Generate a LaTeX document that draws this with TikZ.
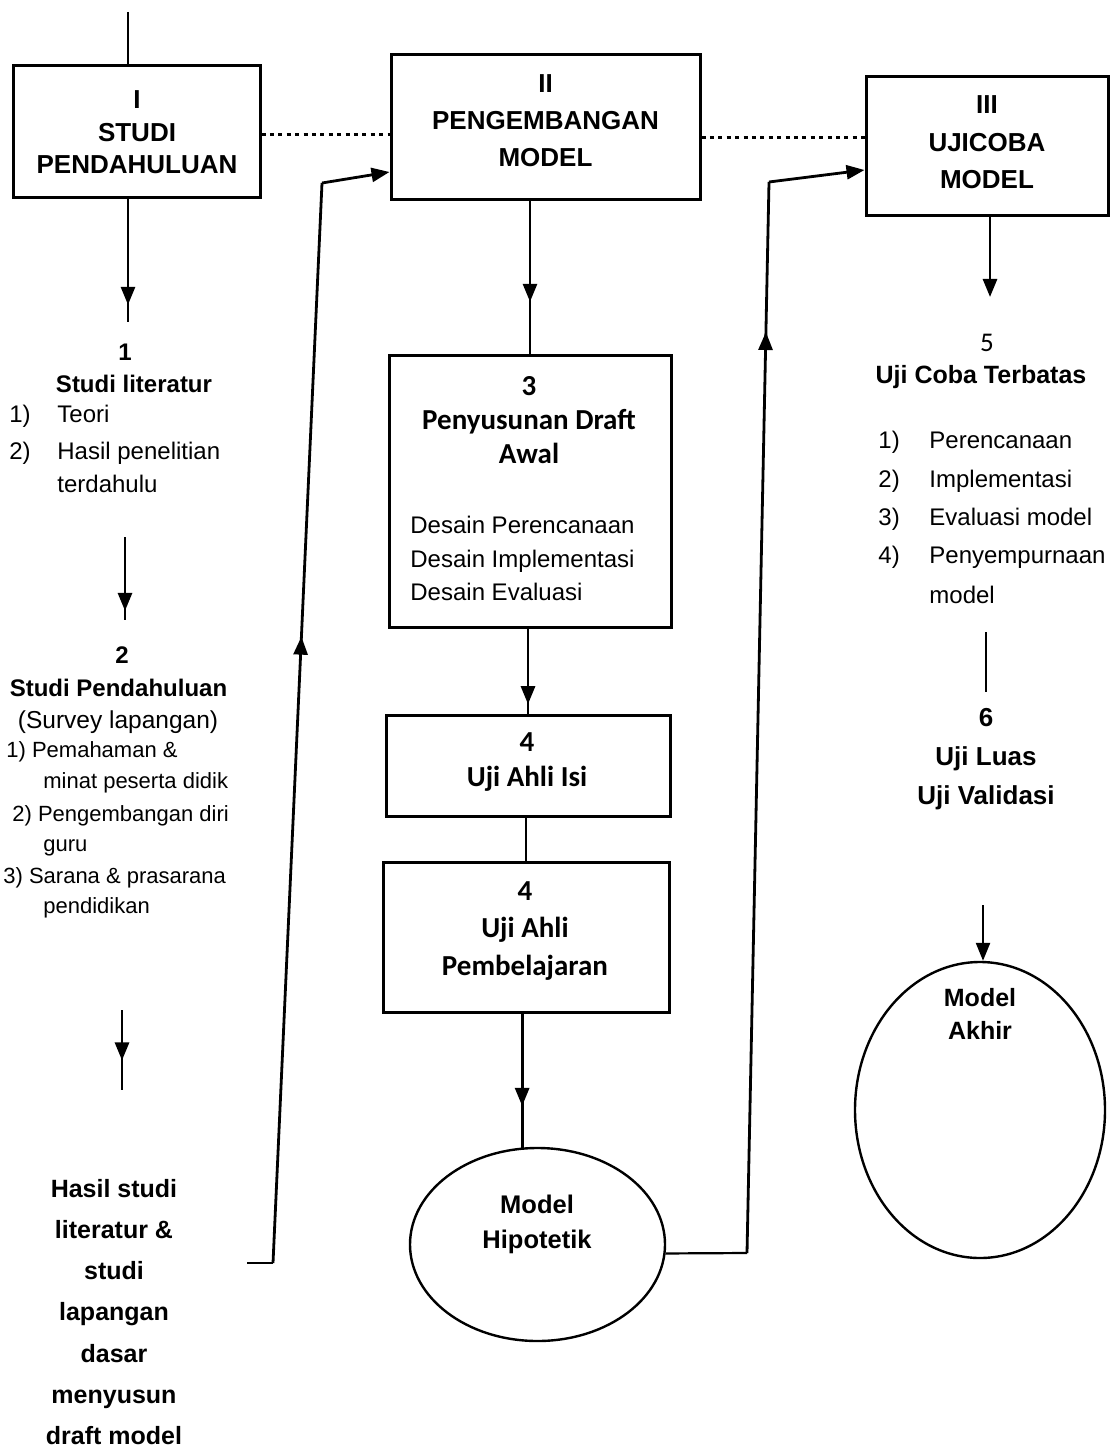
\documentclass[tikz,border=0pt]{standalone}
\usepackage{fontspec}
\setmainfont{Liberation Sans}
\newfontfamily\calib{Carlito}
\usetikzlibrary{arrows.meta,decorations.markings,shapes.geometric}
\tikzset{
  box/.style={draw, line width=1.5pt, rectangle, inner sep=0pt},
  oval/.style={draw, line width=1.2pt, ellipse, inner sep=0pt},
  conn/.style={line width=1.4pt},
  dotline/.style={line width=1.5pt, dash pattern=on 2pt off 2.2pt},
  tipend/.style={-{Triangle[width=7pt,length=9pt]}},
  midarrow/.style={postaction={decorate},decoration={markings,mark=at position #1 with {\arrow{Triangle[width=7pt,length=9pt]}}}},
  ttl/.style={font=\fontsize{13}{16.25}\selectfont\bfseries, align=center, inner sep=0pt},
  cal/.style={font=\fontsize{14.5}{17}\selectfont\calib\bfseries, align=center, inner sep=0pt},
  reg/.style={font=\fontsize{12}{16.75}\selectfont, inner sep=0pt},
  small/.style={font=\fontsize{11}{14}\selectfont, inner sep=0pt},
  bld/.style={font=\fontsize{12}{15}\selectfont\bfseries, inner sep=0pt},
}
\begin{document}
\begin{tikzpicture}[x=0.5pt,y=-0.5pt]
\useasboundingbox (0,0) rectangle (1110,1449);

% ---- main boxes
\node[box, minimum width=123.5pt, minimum height=66pt] (b1) at (136.5,132) {};
\node[ttl] (b1t) at (137,132.5) {I\\STUDI\\PENDAHULUAN};
\node[box, minimum width=154.5pt, minimum height=72.5pt] (b2) at (545.5,127.5) {};
\node[ttl, font=\fontsize{13}{18.5}\selectfont\bfseries] (b2t) at (545.5,121) {II\\PENGEMBANGAN\\MODEL};
\node[box, minimum width=121pt, minimum height=69.5pt] (b3m) at (987,146.5) {};
\node[ttl, font=\fontsize{13}{18.75}\selectfont\bfseries] (b3mt) at (987,142.5) {III\\UJICOBA\\MODEL};

% dotted links
\draw[dotline] ([yshift=-1.5pt]b1.east) -- ([yshift=-1.5pt]b1.east -| b2.west);
\draw[dotline] ([yshift=-5.25pt]b2.east) -- ([yshift=-5.25pt]b2.east -| b3m.west);

% ---- left column
\coordinate (top0) at (128,12);
\draw[conn] (top0) -- (top0 |- b1.north);
\coordinate (a1e) at (128,322);
\draw[conn, midarrow=0.86] (a1e |- b1.south) -- (a1e);

\node[bld] (n1) at (125,352) {1};
\node[bld, anchor=base] (lit) at (134,392.6) {Studi literatur};
\node[reg, anchor=base west] (l1n) at (9,422.6) {1)};
\node[reg, anchor=base west] (l1t) at (57,422.6) {Teori};
\node[reg, anchor=base west] (l2n) at (9,459.6) {2)};
\node[reg, anchor=base west] (l2t) at (57,459.6) {Hasil penelitian};
\node[reg, anchor=base west] (l2u) at (57,492.6) {terdahulu};

\coordinate (a2s) at (125,537);
\coordinate (a2e) at (125,620);
\draw[conn, midarrow=0.89] (a2s) -- (a2e);

\node[bld] (n2) at (122,655) {2};
\node[bld, anchor=base] (pend) at (118.5,696.6) {Studi Pendahuluan};
\node[reg, font=\fontsize{12.25}{15}\selectfont, anchor=base] (surv) at (118,728.6) {(Survey lapangan)};
\node[small, anchor=base west] (p1) at (6,757) {1) Pemahaman \&};
\node[small, anchor=base west] (p1b) at (43,788) {minat peserta didik};
\node[small, anchor=base west] (p2) at (12,821) {2) Pengembangan diri};
\node[small, anchor=base west] (p2b) at (43,851) {guru};
\node[small, anchor=base west] (p3) at (3,883) {3) Sarana \& prasarana};
\node[small, anchor=base west] (p3b) at (43,913) {pendidikan};

\coordinate (a3s) at (122,1010);
\coordinate (a3e) at (122,1090);
\draw[conn, midarrow=0.63] (a3s) -- (a3e);

\node[font=\fontsize{12.5}{20.6}\selectfont\bfseries, align=center, inner sep=0pt] (hasil) at (114,1312)
  {Hasil studi\\literatur \&\\studi\\lapangan\\dasar\\menyusun\\draft model};

% connector hasil -> box II
\coordinate (l0) at (247,1263);
\coordinate (l1) at (273,1263);
\coordinate (l2) at (322,183);
\draw[conn] (l0) -- (l1);
\draw[conn, midarrow=0.58] (l1) -- (l2);
\draw[conn, tipend] (l2) -- ([yshift=-22.25pt]b2.west);

% ---- middle column
\node[box, minimum width=141pt, minimum height=136pt] (b3) at (530,491) {};
\node[cal] (b3t) at (529,420) {3\\Penyusunan Draft\\Awal};
\node[reg, align=left, anchor=west] (b3d) at (410,558.5) {Desain Perencanaan\\Desain Implementasi\\Desain Evaluasi};
\node[box, minimum width=142pt, minimum height=50.5pt] (b4a) at (528,765.5) {};
\node[cal, font=\fontsize{14.5}{17.5}\selectfont\calib\bfseries] (b4at) at (527,762) {4\\Uji Ahli Isi};
\node[box, minimum width=143pt, minimum height=75pt] (b4b) at (526,937) {};
\node[cal, font=\fontsize{14.5}{18.75}\selectfont\calib\bfseries] (b4bt) at (525,931) {4\\Uji Ahli\\Pembelajaran};

\draw[conn, midarrow=0.66] (b3.north |- b2.south) -- (b3.north);
\draw[conn, midarrow=0.89] (b4a.north |- b3.south) -- (b4a.north);
\draw[conn] (b4b.north |- b4a.south) -- (b4b.north);

\node[oval, minimum width=127.5pt, minimum height=96.5pt] (hip) at (537.5,1244.5) {};
\node[font=\fontsize{12.75}{17.5}\selectfont\bfseries, align=center, inner sep=0pt] (hipt) at (537,1224) {Model\\Hipotetik};
\draw[conn, midarrow=0.69] (hip.99 |- b4b.south) -- (hip.99);

% connector hip -> box III
\coordinate (r1) at (747,1253);
\coordinate (r2) at (769,182);
\draw[line width=1.1pt] (hip.-4) -- (r1);
\draw[conn, midarrow=0.86] (r1) -- (r2);
\draw[conn, tipend] (r2) -- ([yshift=-11.75pt]b3m.west);

% ---- right column
\coordinate (c5) at (990,297);
\draw[conn, tipend] (c5 |- b3m.south) -- (c5);
\node[font=\fontsize{13.5}{15}\selectfont\calib, inner sep=0pt] (n5) at (987,343) {5};
\node[font=\fontsize{12.5}{15}\selectfont\bfseries, inner sep=0pt, anchor=base] (ucb) at (981,383.5) {Uji Coba Terbatas};
\node[reg, anchor=base west] (r1n) at (878,448.6) {1)};
\node[reg, anchor=base west] (r1t) at (929,448.6) {Perencanaan};
\node[reg, anchor=base west] (r2n) at (878,487.6) {2)};
\node[reg, anchor=base west] (r2t) at (929,487.6) {Implementasi};
\node[reg, anchor=base west] (r3n) at (878,525.6) {3)};
\node[reg, anchor=base west] (r3t) at (929,525.6) {Evaluasi model};
\node[reg, anchor=base west] (r4n) at (878,563.6) {4)};
\node[reg, anchor=base west] (r4t) at (929,563.6) {Penyempurnaan};
\node[reg, anchor=base west] (r4u) at (929,603.6) {model};

\coordinate (c6a) at (986,632);
\coordinate (c6b) at (986,692);
\draw[line width=1.2pt] (c6a) -- (c6b);

\node[font=\fontsize{13}{19.5}\selectfont\bfseries, align=center, inner sep=0pt] (uji6) at (986,759) {6\\Uji Luas\\Uji Validasi};

\node[oval, minimum width=125pt, minimum height=148pt] (akhir) at (980,1110) {};
\node[font=\fontsize{12.5}{16.5}\selectfont\bfseries, align=center, inner sep=0pt] (akhirt) at (980,1013.5) {Model\\Akhir};
\coordinate (a6) at (983,905);
\draw[line width=1.2pt, tipend] (a6) -- (a6 |- akhir.north);
\end{tikzpicture}
\end{document}
